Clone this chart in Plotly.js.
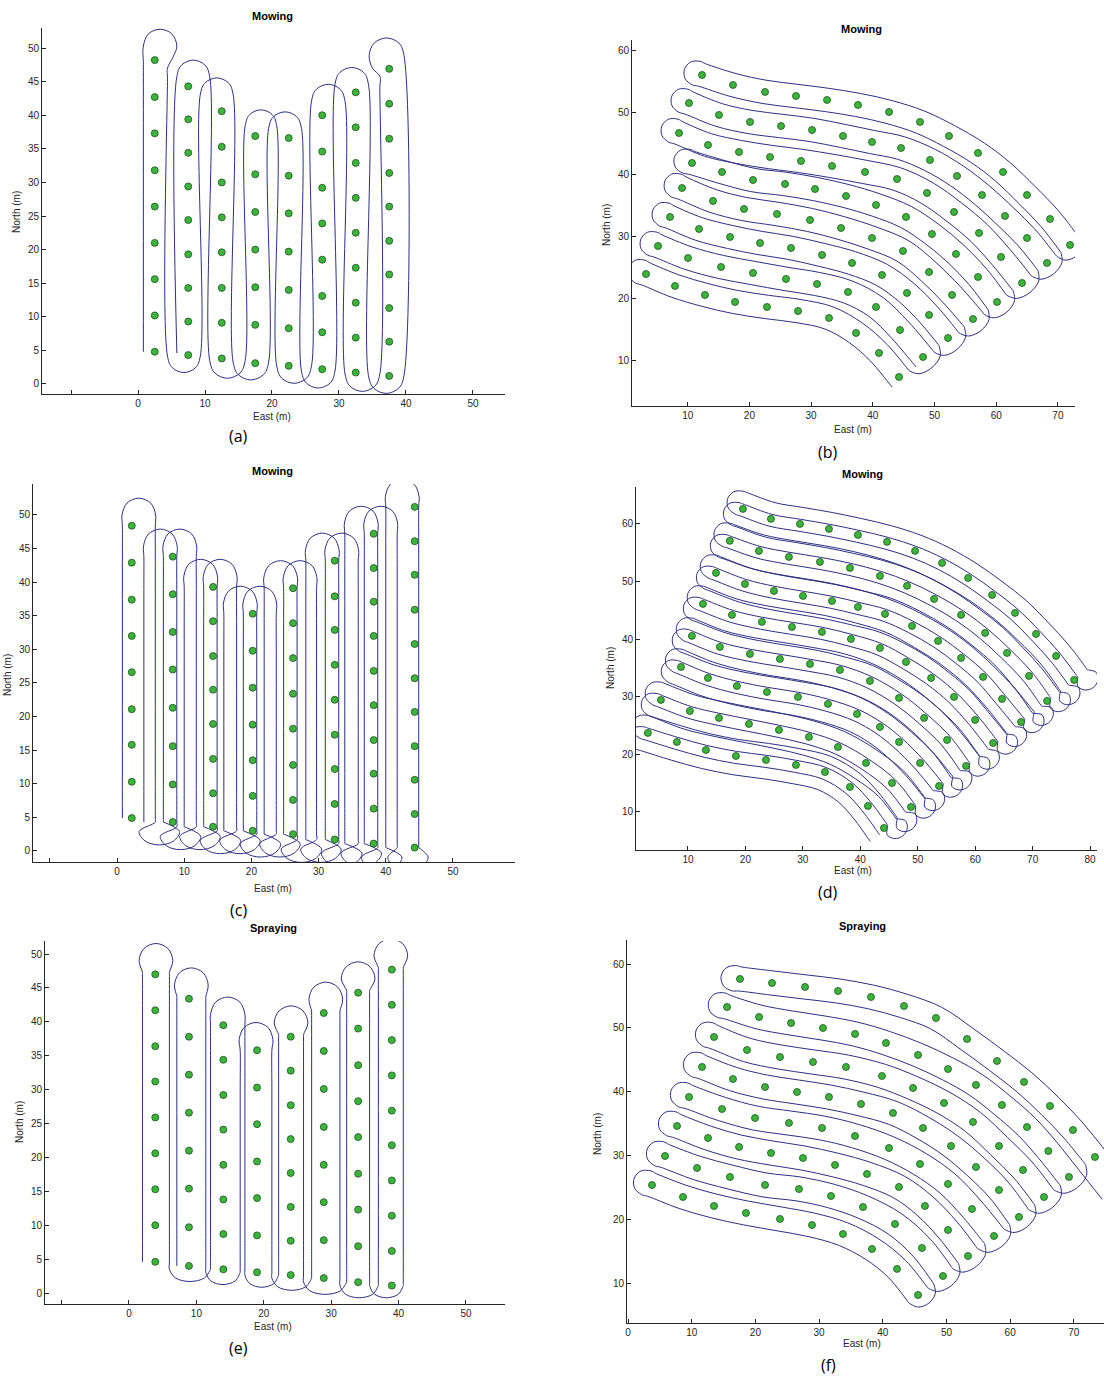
<!DOCTYPE html>
<html><head><meta charset="utf-8">
<script src="https://cdn.plot.ly/plotly-3.0.1.min.js"></script>
<style>body{margin:0;background:#fff}#chart{width:1104px;height:1383px}</style>
</head><body><div id="chart"></div>
<script>
// ================= DATA (metres) =================
// ---------- Panel (a): tree columns + traced path ----------
const aColX = [2.5, 7.5, 12.5, 17.5, 22.5, 27.5, 32.5, 37.5];
const aColY = [
  [48.2, 42.7, 37.3, 31.8, 26.4, 21.0, 15.6, 10.2, 4.8],
  [44.3, 39.4, 34.4, 29.4, 24.4, 19.3, 14.3, 9.3, 4.3],
  [40.6, 35.3, 30.0, 24.8, 19.6, 14.3, 9.1, 3.8],
  [36.9, 31.2, 25.6, 20.0, 14.4, 8.8, 3.1],
  [36.6, 31.0, 25.4, 19.7, 14.0, 8.3, 2.7],
  [40.0, 34.6, 29.2, 23.9, 18.5, 13.1, 7.7, 2.2],
  [43.4, 38.2, 32.9, 27.7, 22.5, 17.3, 12.1, 6.9, 1.7],
  [46.9, 41.7, 36.5, 31.4, 26.4, 21.3, 16.3, 11.3, 6.3, 1.2]
];
const aPath = [
  [0.8,4.8],[0.8,47.5],[0.8,50.3],[1.55,52.1],[3.3,52.8],[5.05,52.1],[5.8,50.3],[5.2,48.6],[4.4,47.0],[4.4,45.5],
  [4.4,4.15],[5.12,2.42],[6.85,1.7],[8.58,2.42],[9.3,4.15],
  [9.3,43.1],[10.02,44.83],[11.75,45.55],[13.48,44.83],[14.2,43.1],
  [14.2,3.25],[14.98,1.38],[16.85,0.6],[18.72,1.38],[19.5,3.25],
  [19.5,38.05],[20.22,39.78],[21.95,40.5],[23.68,39.78],[24.4,38.05],
  [24.4,1.9],[25.13,0.13],[26.9,-0.6],[28.67,0.13],[29.4,1.9],
  [29.4,44.6],[30.13,46.37],[31.9,47.1],[33.67,46.37],[34.4,44.6],
  [34.4,1.25],[35.18,-0.62],[37.05,-1.4],[38.92,-0.62],[39.7,1.25],
  [39.7,48.9],[38.94,50.74],[37.1,51.5],[35.26,50.74],[34.5,48.9],[35.0,47.0],[36.1,45.8],[36.1,44.0],
  [36.1,1.5],[35.34,-0.34],[33.5,-1.1],[31.66,-0.34],[30.9,1.5],
  [30.9,42.1],[30.17,43.87],[28.4,44.6],[26.63,43.87],[25.9,42.1],
  [25.9,2.7],[25.14,0.86],[23.3,0.1],[21.46,0.86],[20.7,2.7],
  [20.7,38.45],[20.01,40.11],[18.35,40.8],[16.69,40.11],[16.0,38.45],
  [16.0,3.5],[15.22,1.63],[13.35,0.85],[11.48,1.63],[10.7,3.5],
  [10.7,45.75],[9.98,47.48],[8.25,48.2],[6.52,47.48],[5.8,45.75],
  [5.8,4.6]
];

// ---------- Panel (b): curved tree rows (west -> east), row 1 = north ----------
const bRows = [
  [[12.32,56.13],[17.34,54.52],[22.53,53.39],[27.55,52.74],[32.58,52.10],[37.60,51.29],[42.63,50.16],[47.65,48.55],[52.35,46.29],[57.05,43.55],[61.10,40.48],[64.99,36.77],[68.72,32.90],[71.96,28.71]],
  [[10.21,51.61],[15.07,49.68],[20.10,48.55],[25.12,47.90],[30.15,47.26],[35.17,46.29],[39.87,45.32],[44.57,44.35],[49.27,42.42],[53.65,39.84],[57.70,36.77],[61.43,33.39],[64.99,29.84],[68.23,25.81]],
  [[8.59,46.77],[13.29,44.84],[18.31,43.71],[23.34,42.90],[28.36,42.26],[33.39,41.45],[38.74,40.48],[43.92,39.35],[48.78,37.10],[53.16,34.03],[57.21,30.65],[60.78,26.77],[64.18,22.58]],
  [[10.70,41.94],[15.56,40.48],[20.58,39.19],[25.77,38.55],[30.63,37.74],[35.66,36.61],[40.52,35.16],[45.38,33.23],[49.59,30.48],[53.48,27.26],[57.05,23.55],[60.13,19.52]],
  [[9.08,37.90],[14.10,35.81],[19.12,34.52],[24.47,33.71],[29.82,32.74],[34.85,31.45],[39.87,29.84],[44.89,27.74],[49.11,24.35],[52.84,20.65],[56.24,16.77]],
  [[7.13,33.23],[11.83,31.29],[16.86,30.00],[21.72,29.03],[26.74,28.23],[31.77,27.10],[36.63,25.81],[41.49,23.87],[45.54,20.97],[49.11,17.42],[52.19,13.71]],
  [[5.19,28.55],[10.05,26.61],[15.40,25.16],[20.58,24.19],[25.93,23.23],[30.96,22.42],[35.98,21.13],[40.52,18.71],[44.41,15.00],[48.14,10.65]],
  [[3.24,24.03],[7.94,22.10],[12.80,20.65],[17.67,19.52],[22.85,18.71],[27.88,18.06],[32.90,16.94],[37.28,14.52],[41.00,11.29],[44.25,7.42]]
];
const bLane = [1.9, 1.9];            // path offset behind / ahead of each row (m)
const bTurn = {Rmin:2.0, turnR:2.0, Rd:2.0, ext:1.0, startExt:0.5};

// ---------- Panel (c) ----------
const cColX = [2.2, 8.3, 14.3, 20.2, 26.2, 32.4, 38.2, 44.3];
const cColY = [
  [48.4, 42.9, 37.4, 32.0, 26.6, 21.1, 15.8, 10.3, 4.9],
  [43.8, 38.2, 32.6, 27.0, 21.3, 15.6, 9.9, 4.3],
  [39.3, 34.2, 29.0, 24.0, 18.9, 13.7, 8.6, 3.6],
  [35.3, 29.8, 24.3, 18.8, 13.5, 8.2, 3.0],
  [39.1, 33.9, 28.7, 23.4, 18.2, 12.8, 7.6, 2.5],
  [43.2, 37.9, 32.9, 27.7, 22.5, 17.3, 12.2, 7.0, 1.7],
  [47.2, 42.1, 37.1, 32.0, 26.8, 21.7, 16.5, 11.5, 6.3, 1.1],
  [51.2, 46.1, 41.1, 35.9, 30.8, 25.7, 20.7, 15.6, 10.6, 5.5, 0.5]
];
const cLaneB = [4.3, 0.6], cLaneA = [1.4, 3.5];   // two passes per column
const cTurn = {Rmin:2.5, turnR:3.0, Rd:2.0, ext:1.6, startExt:0};

// ---------- Panel (d) ----------
const dRows = [
  [[19.57,62.60],[24.45,60.87],[29.50,60.00],[34.55,59.13],[39.59,58.09],[44.65,56.88],[49.53,55.31],[54.23,53.23],[58.76,50.62],[62.94,47.67],[66.93,44.55],[70.59,40.90],[74.08,37.08],[77.22,32.92]],
  [[17.29,57.05],[22.36,55.31],[27.58,54.27],[32.98,53.40],[38.20,52.36],[43.42,50.97],[48.14,49.24],[52.84,46.98],[57.54,44.20],[61.72,41.08],[65.54,37.60],[69.37,33.61],[72.51,29.27]],
  [[14.88,51.49],[19.92,49.58],[24.97,48.37],[30.02,47.50],[35.07,46.63],[39.59,45.59],[44.30,44.38],[49.00,42.29],[53.54,39.69],[57.54,36.74],[61.37,33.44],[64.67,29.62],[67.98,25.62]],
  [[12.61,46.11],[17.66,44.20],[22.88,42.99],[28.10,42.12],[33.32,41.25],[38.37,40.03],[43.42,38.47],[47.96,36.04],[52.32,33.26],[56.32,29.97],[59.98,25.97],[63.12,21.98]],
  [[10.69,40.56],[15.56,38.65],[20.79,37.43],[26.01,36.56],[31.24,35.69],[36.46,34.65],[41.68,32.74],[46.74,29.79],[51.10,26.32],[55.10,22.50],[58.41,17.99]],
  [[8.79,35.17],[13.48,33.26],[18.52,31.87],[23.75,30.83],[29.15,29.97],[34.37,28.75],[39.42,27.01],[43.42,24.76],[46.74,22.15],[50.40,18.51],[53.71,14.51]],
  [[5.29,29.44],[10.34,27.53],[15.40,26.32],[20.62,25.28],[25.84,24.24],[31.06,23.02],[36.11,21.28],[40.99,18.51],[45.52,15.03],[48.83,10.87]],
  [[3.03,23.72],[8.08,22.15],[13.13,20.76],[18.35,19.72],[23.58,19.03],[28.80,18.16],[33.85,16.94],[38.20,14.34],[41.33,11.04],[44.12,7.22]]
];
const dLaneB = [3.3, 0.8], dLaneA = [1.3, 2.9];
const dTurn = {Rmin:2.0, turnR:2.0, Rd:1.8, ext:1.0, startExt:0.5};

// ---------- Panel (e) ----------
const eColX = [3.9, 8.9, 14.0, 19.0, 24.0, 28.9, 34.0, 39.0];
const eColY = [
  [47.0, 41.7, 36.4, 31.2, 25.9, 20.6, 15.3, 10.0, 4.6],
  [43.4, 37.8, 32.2, 26.6, 21.0, 15.4, 9.7, 4.0],
  [39.5, 34.4, 29.2, 24.1, 18.9, 13.8, 8.7, 3.5],
  [35.8, 30.3, 24.9, 19.4, 14.0, 8.5, 3.05],
  [37.8, 32.8, 27.7, 22.7, 17.7, 12.7, 7.7, 2.65],
  [41.3, 35.7, 30.1, 24.5, 18.9, 13.4, 7.8, 2.2],
  [44.3, 39.0, 33.6, 28.3, 23.0, 17.6, 12.3, 6.9, 1.6],
  [47.7, 42.5, 37.3, 32.1, 26.9, 21.8, 16.6, 11.4, 6.2, 1.1]
];
const eLanes = [[1.9,2.1],[1.8,2.5],[1.9,3.2],[2.5,2.2],[1.8,1.9],[1.8,2.4],[1.7,1.7],[2.0,1.7]];
const eTurn = {Rmin:2.5, turnR:2.5, Rd:1.8, ext:1.6, startExt:0};

// ---------- Panel (f) ----------
const fRows = [
  [[17.58,57.68],[22.61,57.05],[27.79,56.43],[32.97,55.80],[38.15,54.86],[43.33,53.45],[48.35,51.57],[53.22,48.28],[57.93,44.83],[62.17,41.54],[66.25,37.77],[69.86,34.01],[73.31,29.78]],
  [[15.54,53.29],[20.57,51.72],[25.59,50.78],[30.61,50.00],[35.64,49.06],[40.50,47.65],[45.53,45.77],[50.24,43.57],[54.63,41.07],[58.71,37.93],[62.64,34.48],[65.99,30.72],[69.23,26.65]],
  [[13.50,48.59],[18.68,46.55],[23.86,45.45],[29.04,44.67],[34.22,43.89],[39.87,42.48],[44.74,40.60],[49.61,38.24],[54.16,35.27],[58.24,31.50],[62.01,27.74],[65.31,23.51]],
  [[11.62,43.89],[16.48,42.01],[21.51,40.75],[26.53,39.97],[31.55,39.18],[36.58,38.09],[41.60,36.68],[46.31,34.33],[50.71,31.50],[54.63,28.21],[58.24,24.61],[61.38,20.38]],
  [[9.58,39.18],[14.76,37.30],[19.94,35.89],[25.27,35.11],[30.46,34.33],[35.64,33.07],[40.97,31.19],[45.84,28.68],[50.24,25.55],[54.00,21.63],[57.46,17.40]],
  [[7.69,34.64],[12.56,32.76],[17.43,31.35],[22.45,30.41],[27.47,29.62],[32.50,28.53],[37.52,27.12],[42.54,25.08],[46.62,22.10],[50.24,18.34],[53.38,14.26]],
  [[5.81,29.94],[10.83,28.06],[16.01,26.65],[21.51,25.39],[26.84,24.76],[31.87,23.67],[36.89,21.94],[41.92,19.28],[46.15,15.52],[49.45,11.13]],
  [[3.77,25.39],[8.63,23.51],[13.50,22.10],[18.52,21.00],[23.86,20.06],[28.89,19.12],[33.75,17.71],[38.30,15.36],[42.23,12.23],[45.53,8.15]]
];
const fLane = [1.9, 1.9];
const fTurn = {Rmin:2.0, turnR:2.0, Rd:2.0, ext:1.0, startExt:6};

// ---------- text ----------
const titles = ['Mowing', 'Mowing', 'Mowing', 'Mowing', 'Spraying', 'Spraying'];
const letters = ['(a)', '(b)', '(c)', '(d)', '(e)', '(f)'];
const xLabel = 'East (m)', yLabel = 'North (m)';

// ================= PATH GEOMETRY (row-following track with end turns) =================
function nrm(v){ const L = Math.hypot(v[0], v[1]) || 1; return [v[0]/L, v[1]/L]; }
function tangentAt(D, i){ const a = D[Math.max(0,i-1)], b = D[Math.min(D.length-1,i+1)]; return nrm([b[0]-a[0], b[1]-a[1]]); }
function offsetPts(D, off){ return D.map((p,i)=>{ const t = tangentAt(D,i); return [p[0]-t[1]*off, p[1]+t[0]*off]; }); }
function capPts(D, pOut, pBack, ext, Rmin){
  const L = D[D.length-1], t = tangentAt(D, D.length-1), n = [-t[1], t[0]];
  const g = Math.abs(pOut-pBack), R = Math.max(Rmin, g/2), mid = (pOut+pBack)/2, s = Math.sign(pBack-pOut);
  const omega = g < 1.8*R, e = omega ? Math.max(ext, 0.7*R+0.3) : ext;
  const loc = [];
  if (omega) loc.push([pOut, e-0.7*R]);
  loc.push([mid-s*R, e],[mid-s*0.707*R, e+0.707*R],[mid, e+R],[mid+s*0.707*R, e+0.707*R],[mid+s*R, e]);
  if (omega) loc.push([pBack, e-0.7*R]);
  return loc.map(([a,v])=>[L[0]+a*n[0]+v*t[0], L[1]+a*n[1]+v*t[1]]);
}
function turnPts(P, Q, tb, refs, Rmin, Rd){
  let u = [Q[0]-P[0], Q[1]-P[1]];
  const du = u[0]*tb[0]+u[1]*tb[1];
  u = [u[0]-du*tb[0], u[1]-du*tb[1]];
  const g = Math.hypot(u[0],u[1]) || 0.01; u = [u[0]/g, u[1]/g];
  const M = [(P[0]+Q[0])/2, (P[1]+Q[1])/2];
  const R = Math.max(Rmin, g/2), omega = g < 1.8*R;
  const dep = p => (p[0]-M[0])*tb[0] + (p[1]-M[1])*tb[1];
  const dC = Math.max(dep(P), dep(Q), ...refs.map(dep)) + (omega ? 0.7*Rd : 0);
  const C = [M[0]+tb[0]*dC, M[1]+tb[1]*dC];
  const loc = [];
  if (omega) loc.push([-g/2, -0.7*Rd]);
  loc.push([-R,0],[-0.707*R,0.707*Rd],[0,Rd],[0.707*R,0.707*Rd],[R,0]);
  if (omega) loc.push([g/2, -0.7*Rd]);
  return loc.map(([a,d])=>[C[0]+a*u[0]+d*tb[0], C[1]+a*u[1]+d*tb[1]]);
}
function buildPath(rows, specs, sigma, T){
  const N = specs.length, order = [];
  for (let i=0;i<N;i+=2) order.push([i,true]);
  for (let i=(N%2===0?N-1:N-2); i>=1; i-=2) order.push([i,false]);
  const pts = []; let prev = null;
  order.forEach(([i,fwd])=>{
    const sp = specs[i], D = rows[sp.r];
    const behindOff = sigma*sp.behind, aheadOff = -sigma*sp.ahead;
    const pOut = fwd ? behindOff : aheadOff, pBack = fwd ? aheadOff : behindOff;
    const outL = offsetPts(D, pOut), backL = offsetPts(D, pBack).reverse();
    if (prev){
      const t1 = tangentAt(rows[specs[prev.i].r], 0), t2 = tangentAt(D, 0);
      const tb = nrm([-(t1[0]+t2[0]), -(t1[1]+t2[1])]);
      const lo = Math.min(prev.i,i), hi = Math.max(prev.i,i), refs = [];
      for (let m=lo; m<=hi; m++) refs.push(rows[specs[m].r][0]);
      pts.push(...turnPts(prev.P, outL[0], tb, refs, T.turnR, T.Rd));
    } else if (T.startExt){
      const t = tangentAt(D,0); pts.push([outL[0][0]-t[0]*T.startExt, outL[0][1]-t[1]*T.startExt]);
    }
    pts.push(...outL, ...capPts(D, pOut, pBack, T.ext, T.Rmin), ...backL);
    prev = {P: backL[backL.length-1], i};
  });
  if (T.startExt && prev){
    const D = rows[specs[prev.i].r], t = tangentAt(D,0);
    pts.push([prev.P[0]-t[0]*T.startExt, prev.P[1]-t[1]*T.startExt]);
  }
  return pts;
}
function colsToRows(colX, colY){ return colX.map((x,k)=>colY[k].slice().sort((p,q)=>p-q).map(y=>[x,y])); }
const rev = rows => rows.map(r=>r.slice().reverse());

// (b): travel east->west, starting from the south row
const bTrav = rev(bRows);
const bSpecs = [7,6,5,4,3,2,1,0].map(r=>({r, behind:bLane[0], ahead:bLane[1]}));
const bPath = buildPath(bTrav, bSpecs, 1, bTurn);
// (c): two passes per column, travel south->north
const cCols = colsToRows(cColX, cColY), cSpecs = [];
cColX.forEach((x,k)=>{ if (k>0) cSpecs.push({r:k, behind:cLaneB[0], ahead:cLaneB[1]}); if (k<cColX.length-1) cSpecs.push({r:k, behind:cLaneA[0], ahead:cLaneA[1]}); });
const cPath = buildPath(cCols, cSpecs, 1, cTurn);
// (d): two passes per row
const dTrav = rev(dRows), dSpecs = [];
[7,6,5,4,3,2,1,0].forEach(r=>{ dSpecs.push({r, behind:dLaneB[0], ahead:dLaneB[1]}); dSpecs.push({r, behind:dLaneA[0], ahead:dLaneA[1]}); });
const dPath = buildPath(dTrav, dSpecs, 1, dTurn);
// (e)
const eCols = colsToRows(eColX, eColY);
const eSpecs = eColX.map((x,k)=>({r:k, behind:eLanes[k][0], ahead:eLanes[k][1]}));
const ePath = buildPath(eCols, eSpecs, 1, eTurn);
// (f): starts from the north row
const fTrav = rev(fRows);
const fSpecs = [0,1,2,3,4,5,6,7].map(r=>({r, behind:fLane[0], ahead:fLane[1]}));
const fPath = buildPath(fTrav, fSpecs, -1, fTurn);

// ================= LAYOUT =================
const W = 1104, H = 1383;
const P = [
  {L:42,  R:505,  T:28,  B:394,  xr:[-14.33,54.78], yr:[-1.49,52.98], xt:[-10,0,10,20,30,40,50], yt:[0,5,10,15,20,25,30,35,40,45,50], tx:272, ty:16, ex:272, ey:417, nx:16, ny:212, lx:238, ly:436},
  {L:632, R:1075, T:40,  B:406,  xr:[0.97,72.77],   yr:[2.74,61.77], xt:[10,20,30,40,50,60,70], yt:[10,20,30,40,50,60], tx:861, ty:29, ex:853, ey:430, nx:606, ny:225, lx:828, ly:452},
  {L:33,  R:515,  T:484, B:862,  xr:[-12.5,59.23],  yr:[-1.64,54.61], xt:[-10,0,10,20,30,40,50], yt:[0,5,10,15,20,25,30,35,40,45,50], tx:272, ty:471, ex:273, ey:888, nx:7, ny:675, lx:238, ly:910},
  {L:636, R:1097, T:487, B:850,  xr:[0.96,81.2],    yr:[3.4,66.4], xt:[10,20,30,40,50,60,70,80], yt:[10,20,30,40,50,60], tx:862, ty:474, ex:853, ey:870, nx:611, ny:668, lx:828, ly:892},
  {L:45,  R:505,  T:941, B:1304, xr:[-12.46,55.79], yr:[-1.62,51.92], xt:[-10,0,10,20,30,40,50], yt:[0,5,10,15,20,25,30,35,40,45,50], tx:273, ty:928, ex:273, ey:1326, nx:19, ny:1122, lx:238, ly:1348},
  {L:627, R:1104, T:940, B:1323, xr:[-0.16,74.73],  yr:[3.76,63.79], xt:[0,10,20,30,40,50,60,70], yt:[10,20,30,40,50,60], tx:862, ty:926, ex:862, ey:1343, nx:597, ny:1134, lx:828, ly:1365}
];
const LINE = '#2e2e82', DOT = '#3cb43c', DOTEDGE = '#1d531d', AX = '#262626';
const FONT = 'Liberation Sans, Arial, sans-serif';

const traces = [];
function ax(i){ return i === 0 ? '' : String(i+1); }
function addPath(i, pts){
  traces.push({type:'scatter', mode:'lines', x:pts.map(p=>p[0]), y:pts.map(p=>p[1]),
    xaxis:'x'+ax(i), yaxis:'y'+ax(i), line:{color:LINE, width:1, shape:'spline', smoothing:1}, hoverinfo:'skip'});
}
function addDots(i, rows){
  const xs = [], ys = [];
  rows.forEach(r=>r.forEach(p=>{ xs.push(p[0]); ys.push(p[1]); }));
  traces.push({type:'scatter', mode:'markers', x:xs, y:ys, xaxis:'x'+ax(i), yaxis:'y'+ax(i),
    marker:{size:7, color:DOT, line:{color:DOTEDGE, width:0.8}}, hoverinfo:'skip', cliponaxis:false});
}
addPath(0, aPath); addDots(0, colsToRows(aColX, aColY));
addPath(1, bPath); addDots(1, bRows);
addPath(2, cPath); addDots(2, cCols);
addPath(3, dPath); addDots(3, dRows);
addPath(4, ePath); addDots(4, eCols);
addPath(5, fPath); addDots(5, fRows);

const layout = {width:W, height:H, margin:{l:0,r:0,t:0,b:0}, showlegend:false,
  paper_bgcolor:'#fff', plot_bgcolor:'rgba(0,0,0,0)', annotations:[], font:{family:FONT, size:10, color:AX}};
P.forEach((p,i)=>{
  const base = {showline:true, linecolor:AX, linewidth:1, ticks:'inside', ticklen:4, tickcolor:AX,
    showgrid:false, zeroline:false, fixedrange:true, tickfont:{family:FONT, size:10, color:AX}};
  layout['xaxis'+ax(i)] = Object.assign({}, base, {domain:[p.L/W, p.R/W], range:p.xr, anchor:'y'+ax(i),
    tickmode:'array', tickvals:p.xt, ticktext:p.xt.map(v=>v<0?'':String(v))});
  layout['yaxis'+ax(i)] = Object.assign({}, base, {domain:[1-p.B/H, 1-p.T/H], range:p.yr, anchor:'x'+ax(i),
    tickmode:'array', tickvals:p.yt, ticktext:p.yt.map(String)});
  const A = layout.annotations;
  A.push({xref:'paper', yref:'paper', x:p.tx/W, y:1-p.ty/H, text:'<b>'+titles[i]+'</b>', showarrow:false, font:{family:FONT, size:11, color:'#000'}, xanchor:'center', yanchor:'middle'});
  A.push({xref:'paper', yref:'paper', x:p.ex/W, y:1-p.ey/H, text:xLabel, showarrow:false, font:{family:FONT, size:10, color:AX}, xanchor:'center', yanchor:'middle'});
  A.push({xref:'paper', yref:'paper', x:p.nx/W, y:1-p.ny/H, text:yLabel, showarrow:false, textangle:-90, font:{family:FONT, size:10, color:AX}, xanchor:'center', yanchor:'middle'});
  A.push({xref:'paper', yref:'paper', x:p.lx/W, y:1-p.ly/H, text:letters[i], showarrow:false, font:{family:'Open Sans, Liberation Sans, sans-serif', size:16, color:'#000'}, xanchor:'center', yanchor:'middle'});
});
Plotly.newPlot('chart', traces, layout, {staticPlot:true});
</script>
</body></html>
